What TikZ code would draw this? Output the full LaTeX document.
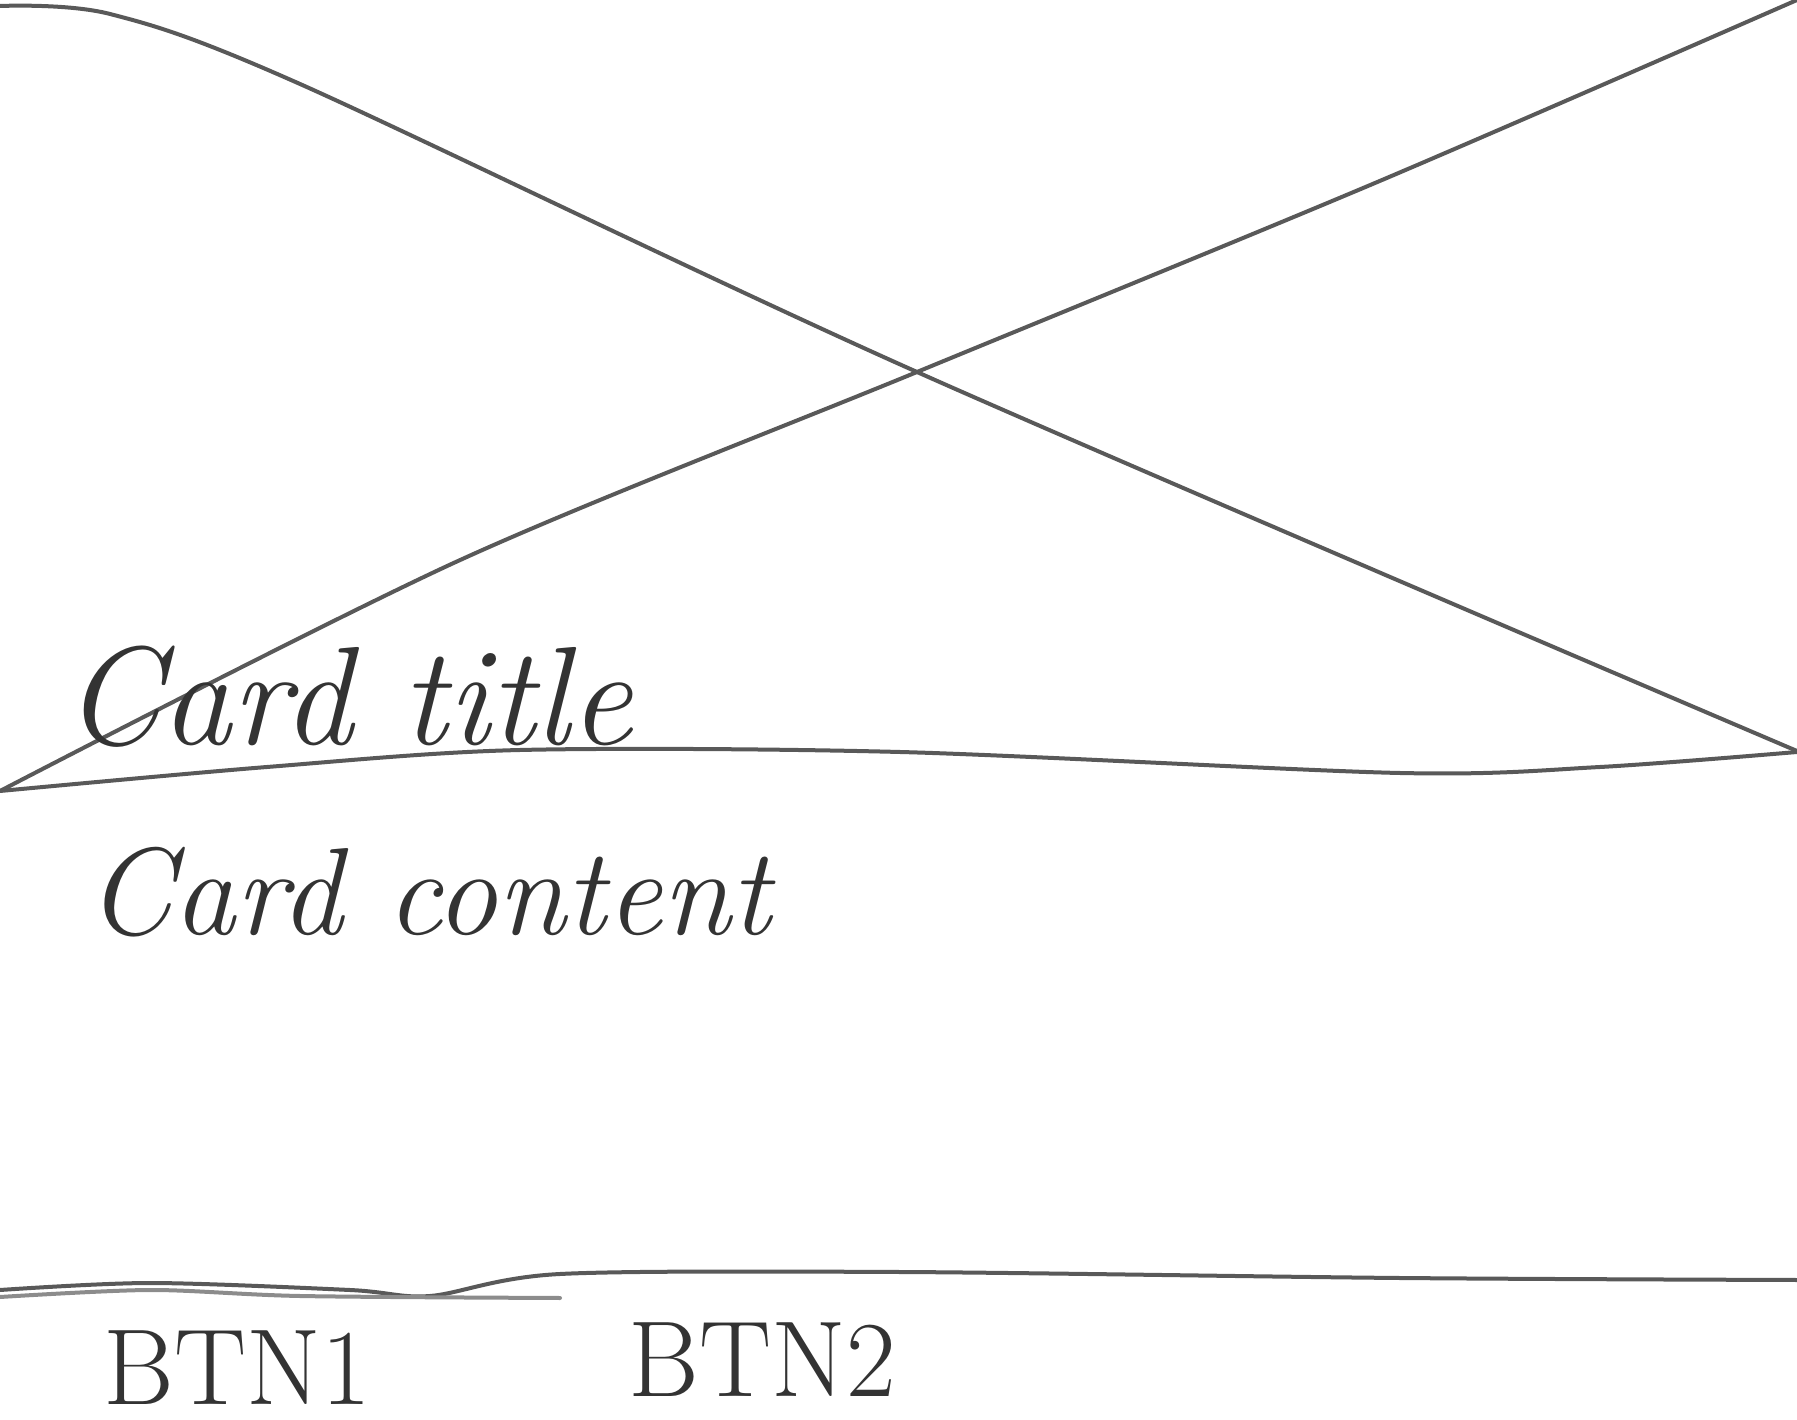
\documentclass[tikz,border=0pt]{standalone}
\begin{document}
\begin{tikzpicture}[x=0.25pt,y=-0.25pt,
  pencil/.style={draw=black!65,line width=1pt,line join=round,line cap=round},
  handtext/.style={text=black!80,inner sep=0pt,font=\fontsize{31}{31}\selectfont\itshape},
  btntext/.style={text=black!80,inner sep=0pt,font=\fontsize{27}{27}\selectfont}]
\useasboundingbox (0,0) rectangle (1797,1420);
% image placeholder cross
\draw[pencil] plot[smooth,tension=0.5] coordinates {(0,6) (110,14) (300,84) (917,372) (1797,751)};
\draw[pencil] plot[smooth,tension=0.5] coordinates {(1797,0) (1375,183) (917,372) (458,561) (0,791)};
% card divider lines
\draw[pencil] plot[smooth] coordinates {(0,791) (267,767) (520,750) (900,752) (1400,773) (1600,767) (1797,752)};
\draw[pencil] plot[smooth] coordinates {(0,1290) (150,1283) (350,1290) (430,1296) (560,1274) (900,1272) (1400,1278) (1797,1280)};
\draw[pencil,draw=black!45] plot[smooth] coordinates {(0,1297) (150,1290) (300,1296) (560,1298)};
% texts
\node[handtext,font=\fontsize{35}{35}\selectfont\itshape,anchor=base west] (title) at (63,745) {Card title};
\node[handtext,anchor=base west] (content) at (86,934) {Card content};
\node[btntext,anchor=base west] (btna) at (103,1404) {BTN1};
\node[btntext,anchor=base west] (btnb) at (628,1396) {BTN2};
\end{tikzpicture}
\end{document}
